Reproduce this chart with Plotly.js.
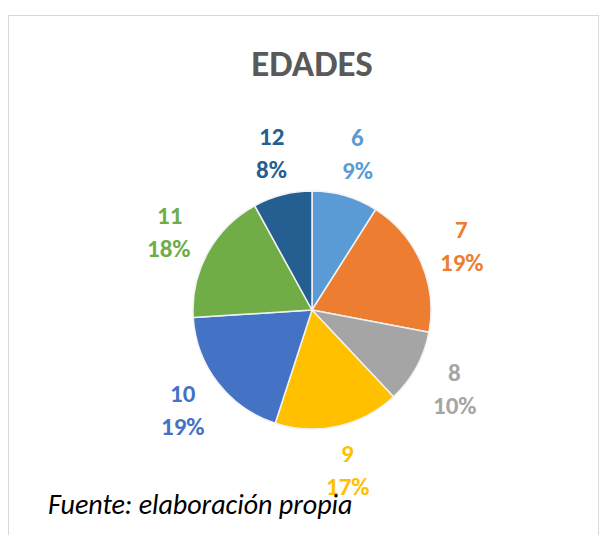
<!DOCTYPE html>
<html>
<head>
<meta charset="utf-8">
<script src="https://cdn.plot.ly/plotly-3.0.1.min.js"></script>
<style>
html,body{margin:0;padding:0;background:#fff;}
#frame{position:absolute;left:8px;top:15px;width:591px;height:540px;border:1px solid #d9d9d9;border-bottom:none;box-sizing:border-box;}
#chart{position:absolute;left:0;top:0;width:606px;height:535px;}
</style>
</head>
<body>
<div id="frame"></div>
<div id="chart"></div>
<script>
const categories = ["6", "7", "8", "9", "10", "11", "12"];
const percentages = [9, 19, 10, 17, 19, 18, 8];
const colors = ["#5B9BD5", "#ED7D31", "#A5A5A5", "#FFC000", "#4472C4", "#70AD47", "#255E91"];
const titleText = "EDADES";
const sourceText = "Fuente: elaboración propia";

const W = 606, H = 535;
const cx = 312, cy = 310, R = 119;
const mL = cx - R, mR = W - (cx + R), mT = cy - R, mB = H - (cy + R);
const FONT = "Carlito, Lato, 'Open Sans', sans-serif";

const total = percentages.reduce((a, b) => a + b, 0);
const annotations = [];
let cum = 0;
const labelR = 1.37;
percentages.forEach((v, i) => {
  const mid = (cum + v / 2) / total * 2 * Math.PI;
  cum += v;
  const x = 0.5 + 0.5 * labelR * Math.sin(mid);
  const y = 0.5 + 0.5 * labelR * Math.cos(mid);
  const pct = Math.round(v / total * 100) + "%";
  annotations.push({xref: "paper", yref: "paper", x: x, y: y, text: "<b>" + categories[i] + "</b>",
    showarrow: false, xanchor: "center", yanchor: "middle", yshift: 16,
    font: {family: FONT, size: 25, color: colors[i]}});
  annotations.push({xref: "paper", yref: "paper", x: x, y: y, text: "<b>" + pct + "</b>",
    showarrow: false, xanchor: "center", yanchor: "middle", yshift: -17,
    font: {family: FONT, size: 25, color: colors[i]}});
});

annotations.push({xref: "paper", yref: "paper", x: (46 - mL) / (2 * R), y: 1 - (504 - mT) / (2 * R),
  text: "<i>" + sourceText + "</i>", showarrow: false, xanchor: "left", yanchor: "middle",
  font: {family: FONT, size: 28, color: "#000000"}});

const data = [{
  type: "pie",
  labels: categories,
  values: percentages,
  sort: false,
  direction: "clockwise",
  rotation: 0,
  textinfo: "none",
  hoverinfo: "label+percent",
  marker: {colors: colors, line: {color: "#f2f2f2", width: 1.5}},
  showlegend: false
}];

const layout = {
  width: W, height: H,
  margin: {l: mL, r: mR, t: mT, b: mB, pad: 0},
  paper_bgcolor: "rgba(0,0,0,0)",
  plot_bgcolor: "rgba(0,0,0,0)",
  showlegend: false,
  title: {text: "<b>" + titleText + "</b>", x: 312 / W, xanchor: "center", y: 1 - 63 / H, yanchor: "middle",
    yref: "container", xref: "container",
    font: {family: FONT, size: 37, color: "#595959"}},
  annotations: annotations
};

Plotly.newPlot("chart", data, layout, {displayModeBar: false, staticPlot: true});
</script>
</body>
</html>
